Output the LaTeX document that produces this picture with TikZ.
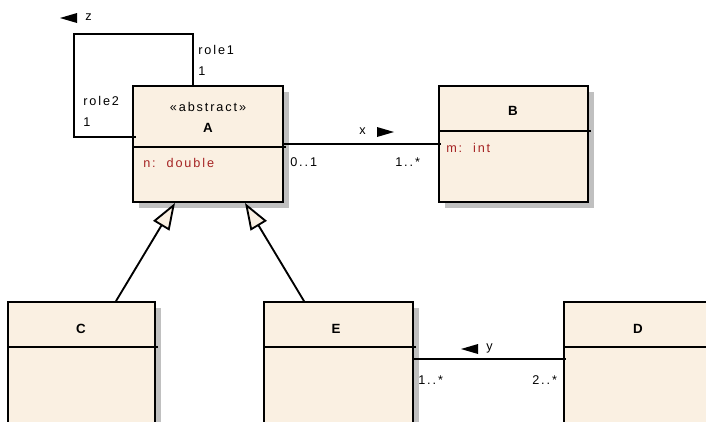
\documentclass[tikz,border=0pt]{standalone}
\usepackage{fontspec}
\setmainfont{Liberation Sans}
\newfontfamily\umlfont[LetterSpace=15]{Liberation Sans}
\usetikzlibrary{arrows.meta,shadows,fit}
\definecolor{cream}{RGB}{250,240,226}
\definecolor{shadowgray}{RGB}{192,192,192}
\definecolor{attrred}{RGB}{165,35,35}
\begin{document}
\begin{tikzpicture}[x=0.75pt,y=-0.75pt,
  cls/.style={draw=black, line width=1.4pt, fill=cream, inner sep=0pt,
    drop shadow={shadow xshift=4.5pt, shadow yshift=-4.5pt, fill=shadowgray, opacity=1}},
  divider/.style={line width=1.4pt},
  txt/.style={font=\umlfont\fontsize{9.5}{11}\selectfont, inner sep=0pt, anchor=base west},
  attr/.style={txt, text=attrred},
  cname/.style={font=\bfseries\fontsize{10}{12}\selectfont, inner sep=0pt, anchor=base},
  assoc/.style={line width=1.4pt},
  gen/.style={line width=1.4pt, -{Triangle[length=20pt, width=14pt, fill=cream, line join=miter]}},
  nav/.style={fill=black}
]
\useasboundingbox (0,0) rectangle (706,421);
\clip (0,0) rectangle (706,421);

% class boxes
\node[cls, fit={(133,86) (283,202)}] (A) {};
\node[cls, fit={(439,86) (588,202)}] (B) {};
\node[cls, fit={(8,302) (155,440)}] (C) {};
\node[cls, fit={(264,302) (413,440)}] (E) {};
\node[cls, fit={(564,302) (720,440)}] (D) {};

% compartments
\draw[divider] (A.west |- 0,147) -- (286,147);
\draw[divider] (B.west |- 0,131) -- (591,131);
\draw[divider] (C.west |- 0,347) -- (158,347);
\draw[divider] (E.west |- 0,347) -- (416,347);
\draw[divider] (D.west |- 0,347) -- (720,347);

% class texts
\node[txt, anchor=base] (Aster) at (208,111) {«abstract»};
\node[cname] (An) at (208,132) {A};
\node[attr] (Aattr) at (143,167) {n:~~double};
\node[cname] (Bn) at (513,115) {B};
\node[attr] (Battr) at (446,152) {m:~~int};
\node[cname] (Cn) at (81,333) {C};
\node[cname] (En) at (336,333) {E};
\node[cname] (Dn) at (638,333) {D};

% generalizations
\draw[gen] (C.north -| 116,0) -- (A.south -| 175,0);
\draw[gen] (E.north -| 304,0) -- (A.south -| 245,0);

% association x
\draw[assoc] (A.east) -- ([xshift=2pt]B.west);
\node[txt] (xl) at (359,134) {x};
\fill[nav] (394,132) -- (377,127) -- (377,137) -- cycle;
\node[txt] (xm1) at (290,166) {0..1};
\node[txt] (xm2) at (395,166) {1..*};

% association y
\draw[assoc] (E.east |- 0,359) -- ([xshift=2pt]D.west |- 0,359);
\node[txt] (yl) at (486,350) {y};
\fill[nav] (461,349) -- (478,344) -- (478,354) -- cycle;
\node[txt] (ym1) at (418,384) {1..*};
\node[txt] (ym2) at (532,384) {2..*};

% self association z
\draw[assoc] (A.north -| 193,0) -- (193,34) -- (74,34) -- (74,137) -- ([xshift=3pt]A.west |- 0,137);
\node[txt] (zl) at (85,21) {z};
\fill[nav] (60,18) -- (77,13) -- (77,23) -- cycle;
\node[txt] (r1) at (198,54) {role1};
\node[txt] (r1m) at (198,75) {1};
\node[txt] (r2) at (83,105) {role2};
\node[txt] (r2m) at (83,126) {1};
\end{tikzpicture}
\end{document}
